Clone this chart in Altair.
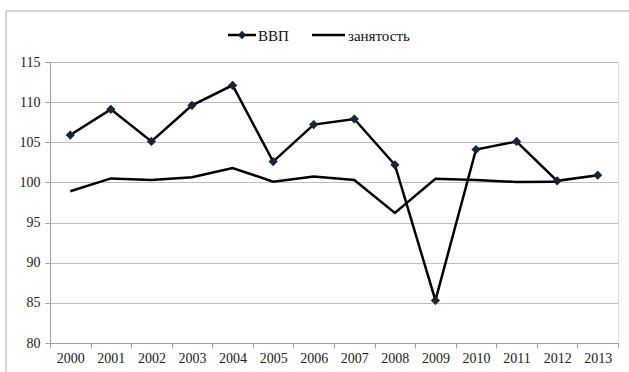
import altair as alt
import pandas as pd

years = [str(y) for y in range(2000, 2014)]
gdp = [105.9, 109.1, 105.1, 109.6, 112.1, 102.6, 107.2, 107.9, 102.2, 85.3, 104.1, 105.1, 100.2, 100.9]
employment = [98.9, 100.5, 100.3, 100.65, 101.8, 100.1, 100.75, 100.3, 96.2, 100.45, 100.3, 100.05, 100.1, None]

y_ticks = [80, 85, 90, 95, 100, 105, 110, 115]
legend_labels = ["ВВП", "занятость"]

FONT = "serif"

df_gdp = pd.DataFrame({"year": years, "value": gdp})
df_emp = pd.DataFrame({"year": years, "value": employment}).dropna()

x_enc = alt.X(
    "year:O",
    bandPosition=0.5,
    scale=alt.Scale(type="band", domain=years, paddingInner=0, paddingOuter=0),
    axis=alt.Axis(
        title=None, labelAngle=0, grid=False, tickBand="extent",
        domainColor="#a0a0a0", tickColor="#a0a0a0", tickSize=5,
        labelFont=FONT, labelFontSize=14, labelColor="#222222", labelPadding=3,
    ),
)
y_enc = alt.Y(
    "value:Q",
    scale=alt.Scale(domain=[80, 115], nice=False, zero=False),
    axis=alt.Axis(
        title=None, values=y_ticks, grid=True, gridColor="#bdbdbd", gridWidth=1,
        domainColor="#a0a0a0", tickColor="#a0a0a0", tickSize=5,
        labelFont=FONT, labelFontSize=14, labelColor="#222222", labelPadding=5,
    ),
)

emp_line = alt.Chart(df_emp).mark_line(color="black", strokeWidth=2.5).encode(x=x_enc, y=y_enc)
gdp_line = alt.Chart(df_gdp).mark_line(color="black", strokeWidth=2.5).encode(x=x_enc, y=y_enc)
gdp_pts = alt.Chart(df_gdp).mark_point(
    shape="diamond", filled=True, size=85, color="#15253a", opacity=1
).encode(x=x_enc, y=y_enc)

dummy = pd.DataFrame({"d": [0]})
base = alt.Chart(dummy)

frame_left = base.mark_rule(color="#d3d3d3", strokeWidth=2).encode(
    x=alt.value(-44), y=alt.value(-51), y2=alt.value(330))
frame_top = base.mark_rule(color="#d3d3d3", strokeWidth=2).encode(
    x=alt.value(-44), x2=alt.value(590), y=alt.value(-51))

leg1_line = base.mark_rule(color="black", strokeWidth=2.5).encode(
    x=alt.value(178), x2=alt.value(206), y=alt.value(-27))
leg1_pt = base.mark_point(shape="diamond", filled=True, size=70, color="#15253a", opacity=1).encode(
    x=alt.value(192), y=alt.value(-27))
leg1_txt = base.mark_text(text=legend_labels[0], font=FONT, fontSize=15, align="left",
                          baseline="middle", color="#111111").encode(
    x=alt.value(208), y=alt.value(-26))
leg2_line = base.mark_rule(color="black", strokeWidth=2.5).encode(
    x=alt.value(262), x2=alt.value(295), y=alt.value(-27))
leg2_txt = base.mark_text(text=legend_labels[1], font=FONT, fontSize=15, align="left",
                          baseline="middle", color="#111111").encode(
    x=alt.value(298), y=alt.value(-26))

chart = alt.layer(
    emp_line, gdp_line, gdp_pts,
    frame_left, frame_top,
    leg1_line, leg1_pt, leg1_txt, leg2_line, leg2_txt,
).properties(
    width=568, height=281,
    padding={"left": 50, "top": 62, "right": 11, "bottom": 29},
    autosize=alt.AutoSizeParams(type="none"),
).configure_view(stroke=None).configure(background="white")

chart.save("out.html", embed_options={"renderer": "svg", "actions": False})
